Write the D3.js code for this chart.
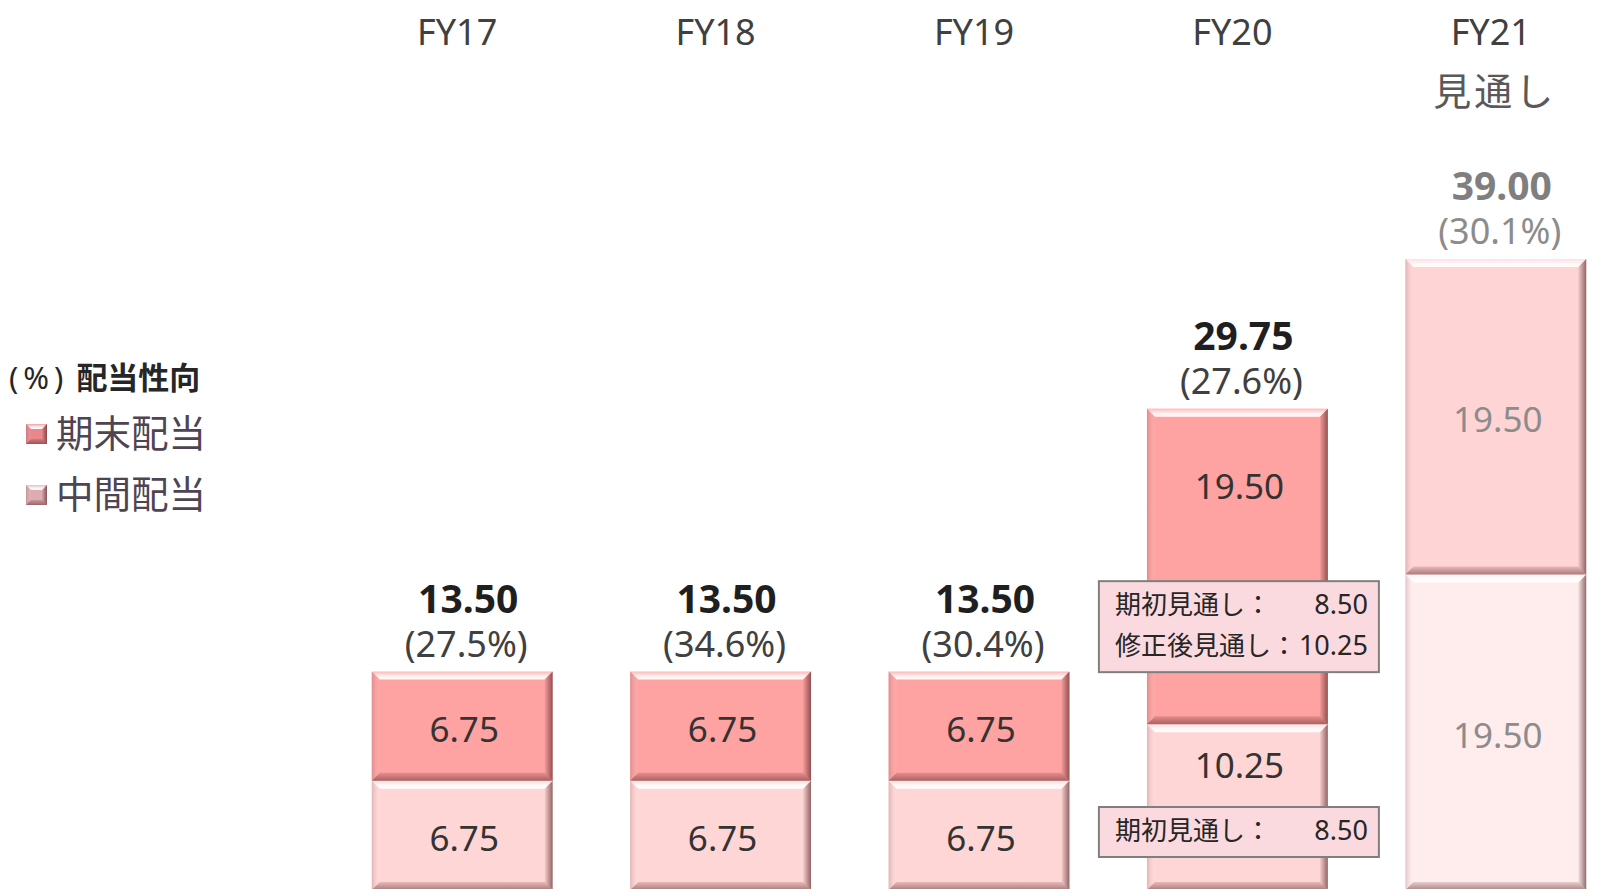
<!DOCTYPE html>
<html lang="ja">
<head>
<meta charset="utf-8">
<title>配当推移</title>
<script src="https://cdn.jsdelivr.net/npm/d3@7"></script>
<style>
  html, body { margin: 0; padding: 0; background: #ffffff; }
  svg { display: block; }
  text { font-family: "Noto Sans", "Noto Sans CJK JP", sans-serif; }
</style>
</head>
<body>
<div id="chart"></div>
<script>
// ---- data ----
const categories = ["FY17", "FY18", "FY19", "FY20", "FY21"];
const categorySubLabels = ["", "", "", "", "見通し"];
const interimDividend = [6.75, 6.75, 6.75, 10.25, 19.50];   // 中間配当
const yearEndDividend = [6.75, 6.75, 6.75, 19.50, 19.50];   // 期末配当
const payoutRatio = [27.5, 34.6, 30.4, 27.6, 30.1];         // 配当性向 (%)
const isForecast = [false, false, false, false, true];
const seriesKeys = ["interim", "yearEnd"];
const seriesNames = { interim: "中間配当", yearEnd: "期末配当" };

// notes attached to the FY20 segments
const fy20YearEndNotes = [["期初見通し：", "8.50"], ["修正後見通し：", "10.25"]];
const fy20InterimNotes = [["期初見通し：", "8.50"]];

// ---- layout ----
const W = 1604, H = 889;
const svg = d3.select("#chart").append("svg").attr("width", W).attr("height", H);
const defs = svg.append("defs");

const table = categories.map((c, i) => ({
  cat: c, interim: interimDividend[i], yearEnd: yearEndDividend[i],
  ratio: payoutRatio[i], forecast: isForecast[i], sub: categorySubLabels[i]
}));
const stacked = d3.stack().keys(seriesKeys)(table);

const x = d3.scaleBand().domain(categories).range([333, 1625])
  .paddingInner(0.3).paddingOuter(0.15);
const y = d3.scaleLinear().domain([0, 39]).range([890, 259]);

const fills = {
  normal:   { interim: "#ffd6d6", yearEnd: "#fea2a2" },
  forecast: { interim: "#ffecec", yearEnd: "#ffd4d5" }
};

// gradients for the bevel edges
function linGrad(id, x1, y1, x2, y2, stops) {
  const g = defs.append("linearGradient").attr("id", id)
    .attr("x1", x1).attr("y1", y1).attr("x2", x2).attr("y2", y2);
  stops.forEach(s => g.append("stop").attr("offset", s[0])
    .attr("stop-color", s[1]).attr("stop-opacity", s[2]));
}
linGrad("bevTop", 0, 0, 0, 1, [[0, "#fff", 0.25], [0.6, "#fff", 0.85], [1, "#fff", 0.95]]);
linGrad("bevBottom", 0, 0, 0, 1, [[0, "#5a1e1e", 0.15], [1, "#5a1e1e", 0.5]]);
linGrad("bevRight", 0, 0, 1, 0, [[0, "#4a1a1a", 0.05], [1, "#4a1a1a", 0.6]]);
linGrad("bevLeft", 0, 0, 1, 0, [[0, "#7a3a3a", 0.22], [1, "#ffffff", 0.05]]);

function bevelBox(g, bx, by, bw, bh, fill, b) {
  g.append("rect").attr("x", bx).attr("y", by).attr("width", bw).attr("height", bh).attr("fill", fill);
  const poly = (pts, f) => g.append("polygon").attr("points", pts.map(p => p.join(",")).join(" ")).attr("fill", f);
  poly([[bx, by], [bx + bw, by], [bx + bw - b, by + b], [bx + b, by + b]], "url(#bevTop)");
  poly([[bx, by + bh], [bx + bw, by + bh], [bx + bw - b, by + bh - b], [bx + b, by + bh - b]], "url(#bevBottom)");
  poly([[bx + bw, by], [bx + bw, by + bh], [bx + bw - b, by + bh - b], [bx + bw - b, by + b]], "url(#bevRight)");
  poly([[bx, by], [bx, by + bh], [bx + b, by + bh - b], [bx + b, by + b]], "url(#bevLeft)");
}

// ---- category headers ----
const head = svg.append("g");
head.selectAll("text.cat").data(table).join("text").attr("class", "cat")
  .attr("x", d => x(d.cat) + x.bandwidth() / 2 - 5).attr("y", 45)
  .attr("text-anchor", "middle").attr("font-size", 36).attr("fill", "#404040")
  .text(d => d.cat);
head.selectAll("text.sub").data(table.filter(d => d.sub)).join("text").attr("class", "sub")
  .attr("x", d => x(d.cat) + x.bandwidth() / 2 - 1).attr("y", 105)
  .attr("text-anchor", "middle").attr("font-size", 38).attr("letter-spacing", 3)
  .attr("fill", "#595959")
  .style("font-family", "'Noto Sans CJK JP', sans-serif")
  .text(d => d.sub);

// ---- bars ----
const barsG = svg.append("g");
stacked.forEach(layer => {
  layer.forEach(seg => {
    const d = seg.data;
    const bx = x(d.cat), bw = x.bandwidth();
    const y0 = y(seg[1]), y1 = y(seg[0]);
    const g = barsG.append("g");
    bevelBox(g, bx, y0, bw, y1 - y0, fills[d.forecast ? "forecast" : "normal"][layer.key], 8);
  });
});

// ---- notes (FY20) ----
const notesG = svg.append("g");
function segmentOf(key, cat) {
  const layer = stacked.find(l => l.key === key);
  return layer[categories.indexOf(cat)];
}
function drawNote(key, cat, lines, bottomGap) {
  const seg = segmentOf(key, cat);
  const cx = x(cat) + x.bandwidth() / 2 + 1.5;
  const bw = 280, bh = lines.length * 41 + 9;
  const bottom = y(seg[0]) - bottomGap;
  const top = bottom - bh;
  notesG.append("rect").attr("x", cx - bw / 2).attr("y", top).attr("width", bw).attr("height", bh)
    .attr("fill", "#fbdadf").attr("stroke", "#7f7f7f").attr("stroke-width", 2);
  lines.forEach((ln, i) => {
    notesG.append("text").attr("x", cx - bw / 2 + 16).attr("y", top + 33 + i * 41)
      .attr("font-size", 26).attr("fill", "#262626")
      .style("font-family", "'Noto Sans CJK JP', sans-serif").text(ln[0]);
    notesG.append("text").attr("x", cx + bw / 2 - 11).attr("y", top + 33 + i * 41)
      .attr("text-anchor", "end").attr("font-size", 27).attr("fill", "#262626").text(ln[1]);
  });
  return top;
}
const noteTops = {
  yearEnd: drawNote("yearEnd", "FY20", fy20YearEndNotes, 52),
  interim: drawNote("interim", "FY20", fy20InterimNotes, 33)
};

// ---- segment value labels ----
const labelsG = svg.append("g");
stacked.forEach(layer => {
  layer.forEach(seg => {
    const d = seg.data;
    const top = y(seg[1]), bottom = y(seg[0]);
    let cy = (top + bottom) / 2 + 2;
    if (d.cat === "FY20") cy = (top + noteTops[layer.key]) / 2 - (layer.key === "yearEnd" ? 9 : 1);
    labelsG.append("text")
      .attr("x", x(d.cat) + x.bandwidth() / 2 + 2).attr("y", cy)
      .attr("text-anchor", "middle").attr("dominant-baseline", "central")
      .attr("font-size", 35).attr("fill", d.forecast ? "#8c8c8c" : "#333333")
      .text(d3.format(".2f")(seg[1] - seg[0]));
  });
});

// ---- totals and payout ratio ----
const topLayer = stacked[stacked.length - 1];
topLayer.forEach(seg => {
  const d = seg.data;
  const cx = x(d.cat) + x.bandwidth() / 2 + 6;
  const barTop = y(seg[1]);
  labelsG.append("text").attr("x", cx).attr("y", barTop - 59)
    .attr("text-anchor", "middle").attr("font-size", 39).attr("font-weight", 700)
    .attr("fill", d.forecast ? "#7f7f7f" : "#1f1f1f")
    .text(d3.format(".2f")(seg[1]));
  labelsG.append("text").attr("x", cx - 2).attr("y", barTop - 15)
    .attr("text-anchor", "middle").attr("font-size", 36)
    .attr("fill", d.forecast ? "#8c8c8c" : "#404040")
    .text("(" + d3.format(".1f")(d.ratio) + "%)");
});

// ---- legend ----
const leg = svg.append("g");
const legTitle = leg.append("text").attr("x", 9).attr("y", 389)
  .attr("font-size", 31).attr("font-weight", 700).attr("fill", "#262626");
legTitle.append("tspan").attr("letter-spacing", 5).attr("font-weight", 400).text("(%)");
legTitle.append("tspan").attr("dx", 8)
  .style("font-family", "'Noto Sans CJK JP', sans-serif").text("配当性向");
const legendItems = [
  { key: "yearEnd", color: "#e8878c", y: 434 },
  { key: "interim", color: "#ddabb1", y: 495 }
];
legendItems.forEach(it => {
  const g = leg.append("g");
  bevelBox(g, 26, it.y - 10, 21, 20, it.color, 5);
  leg.append("text").attr("x", 56).attr("y", it.y + 13)
    .attr("font-size", 37.5).attr("fill", "#4f4452")
    .style("font-family", "'Noto Sans CJK JP', sans-serif")
    .text(seriesNames[it.key]);
});
</script>
</body>
</html>
